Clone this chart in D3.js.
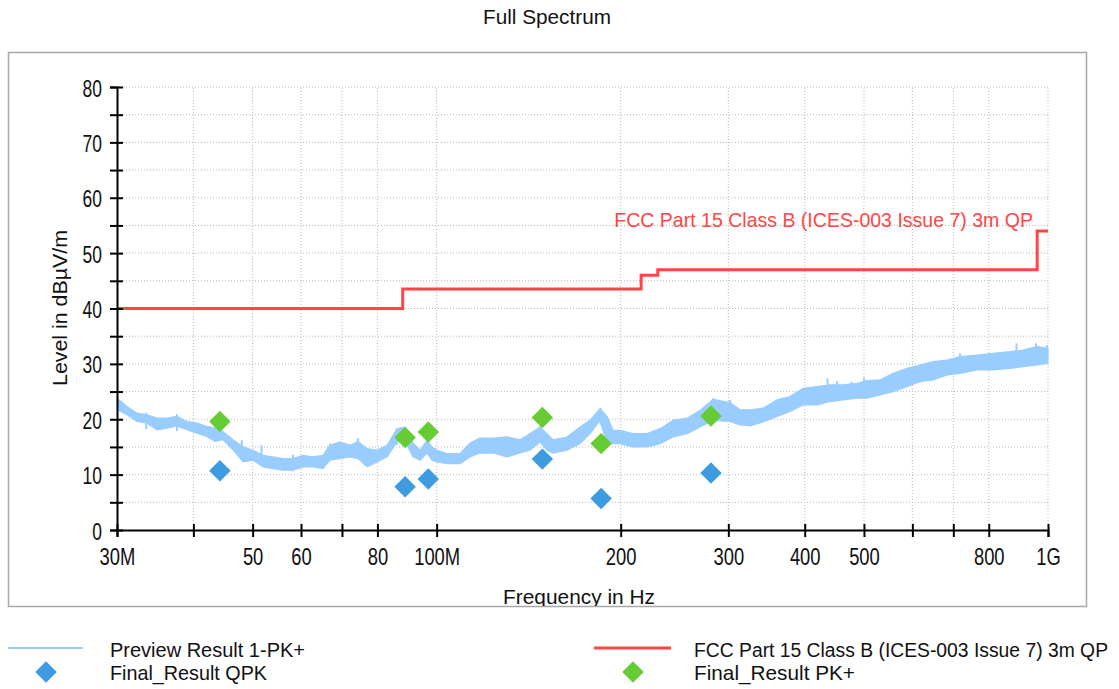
<!DOCTYPE html>
<html>
<head>
<meta charset="utf-8">
<script src="https://cdn.jsdelivr.net/npm/d3@7"></script>
<style>
  html, body { margin: 0; padding: 0; background: #ffffff; }
  svg { display: block; font-family: "Liberation Sans", Arial, sans-serif; }
</style>
</head>
<body>
<svg id="chart" width="1119" height="689"></svg>
<script>
// ---------------- data ----------------
const chartTitle = "Full Spectrum";
const xTitle = "Frequency in Hz";
const yTitle = "Level in dBµV/m";
const limitName = "FCC Part 15 Class B (ICES-003 Issue 7) 3m QP";

const freqTicks = [30, 40, 50, 60, 70, 80, 100, 200, 300, 400, 500, 600, 700, 800, 1000];
const freqTickLabels = { 30: "30M", 50: "50", 60: "60", 80: "80", 100: "100M", 200: "200", 300: "300", 400: "400", 500: "500", 800: "800", 1000: "1G" };
const levelTicks = [0, 5, 10, 15, 20, 25, 30, 35, 40, 45, 50, 55, 60, 65, 70, 75, 80];

// Preview Result 1-PK+ (trace envelope): frequency MHz, upper, lower dBµV/m
const traceFreq = [30.0, 31.15, 32.35, 33.59, 34.88, 36.22, 37.61, 39.05, 40.55, 42.10, 43.39, 44.72, 46.44, 48.22, 50.07, 51.99, 53.99, 56.06, 58.22, 60.46, 62.77, 65.18, 66.92, 69.49, 72.16, 74.38, 76.94, 79.88, 82.95, 86.12, 88.77, 91.49, 93.93, 96.44, 98.28, 100.15, 103.98, 109.2, 113.4, 117.7, 123.7, 130.4, 136.9, 142.1, 147.6, 151.5, 155.0, 163.4, 171.6, 178.2, 185.0, 190.0, 194.3, 199.5, 209.5, 220.9, 232.0, 243.6, 256.8, 269.7, 283.2, 302.0, 313.6, 325.6, 341.9, 360.5, 378.5, 397.5, 419.0, 440.0, 462.2, 487.1, 505.8, 531.2, 557.8, 587.9, 617.5, 648.7, 683.9, 718.0, 765.4, 813.0, 866.7, 910.3, 959.7, 1000];
const traceHigh = [23.8, 22.3, 21.1, 20.8, 20.2, 20.2, 20.5, 19.6, 19.3, 18.7, 18.4, 17.8, 16.3, 15.0, 14.4, 13.5, 13.2, 12.9, 12.9, 13.5, 13.2, 13.5, 15.3, 15.9, 15.3, 16.0, 14.7, 14.4, 15.3, 18.3, 18.6, 15.7, 14.4, 16.2, 15.0, 14.4, 13.8, 13.8, 15.7, 16.6, 16.6, 16.8, 16.3, 17.4, 18.6, 17.4, 16.3, 16.8, 18.6, 19.8, 21.9, 20.5, 18.0, 18.0, 17.4, 17.4, 18.3, 19.8, 20.2, 21.6, 23.6, 23.0, 21.7, 21.7, 22.0, 23.5, 24.1, 25.6, 25.9, 26.2, 26.2, 26.5, 27.0, 27.1, 28.3, 29.2, 29.8, 30.4, 30.7, 31.3, 31.6, 31.9, 32.2, 32.5, 33.1, 32.8];
const traceLow = [21.8, 20.8, 19.6, 19.3, 18.1, 18.4, 18.8, 18.1, 17.5, 16.9, 16.0, 16.3, 14.5, 12.3, 12.6, 11.4, 11.1, 10.8, 10.8, 11.4, 11.4, 11.1, 12.6, 12.9, 13.2, 12.9, 11.4, 12.3, 13.2, 15.9, 16.0, 13.2, 12.6, 13.9, 12.6, 12.3, 12.0, 12.0, 13.2, 13.9, 13.9, 13.2, 13.9, 14.4, 15.9, 14.4, 13.9, 14.4, 15.6, 17.4, 19.8, 15.5, 15.6, 15.6, 15.0, 15.0, 15.6, 16.8, 17.4, 18.6, 19.8, 19.6, 19.0, 18.8, 19.5, 20.5, 21.4, 22.6, 22.6, 23.2, 23.5, 23.8, 23.8, 24.4, 25.0, 25.9, 26.8, 27.1, 28.0, 28.3, 28.9, 28.9, 29.2, 29.5, 29.8, 30.1];

// Visible narrow spikes of the trace: frequency MHz, spike top dBµV/m
const spikeFreq = [33.5, 37.6, 48.0, 51.7, 58.2, 66.9, 74.4, 86.1, 147.6, 185.5, 283.5, 302.0, 436.0, 452.0, 477.0, 500.0, 718.0, 888.0, 956.0, 996.0];
const spikeTop = [21.2, 20.9, 16.2, 15.3, 13.6, 15.6, 16.6, 18.4, 18.8, 22.0, 23.8, 23.5, 27.4, 26.9, 26.8, 27.5, 31.9, 33.7, 33.7, 33.4];

// Limit line (step after each frequency)
const limitFreq = [30, 88, 216, 230, 960, 1000];
const limitLevel = [40, 43.5, 46, 47, 54, 54];

// Final results
const qpkFreq = [44.2, 88.8, 96.9, 148.9, 185.8, 281.0];
const qpkLevel = [10.7, 7.8, 9.2, 12.8, 5.7, 10.3];
const pkFreq = [44.2, 88.8, 96.9, 148.9, 185.8, 281.0];
const pkLevel = [19.6, 16.7, 17.7, 20.3, 15.6, 20.6];

// ---------------- drawing ----------------
const colTrace = "#99ccff", colLimit = "#ff4545", colQpk = "#3f9be0", colPk = "#66cc33";
const svg = d3.select("#chart");

const x = d3.scaleLog().domain([30, 1000]).range([117, 1048]);
const y = d3.scaleLinear().domain([0, 80]).range([530, 87]);

// frame
svg.append("rect").attr("x", 8.5).attr("y", 52.5).attr("width", 1078).attr("height", 554)
  .attr("fill", "#fff").attr("stroke", "#a8a8a8").attr("stroke-width", 1.5);

svg.append("defs").append("clipPath").attr("id", "frameClip")
  .append("rect").attr("x", 9).attr("y", 53).attr("width", 1077).attr("height", 553);

// title
svg.append("text").attr("x", 547).attr("y", 24).attr("text-anchor", "middle")
  .attr("font-size", 21).attr("textLength", 128).attr("lengthAdjust", "spacingAndGlyphs")
  .attr("fill", "#111").text(chartTitle);

const plot = svg.append("g").attr("clip-path", "url(#frameClip)");

// grid
plot.append("g").selectAll("line").data(levelTicks.filter(d => d > 0)).join("line")
  .attr("x1", x(30)).attr("x2", x(1000)).attr("y1", d => y(d)).attr("y2", d => y(d))
  .attr("stroke", "#b8b8b8").attr("stroke-width", 1).attr("stroke-dasharray", "1,2");
plot.append("g").selectAll("line").data(freqTicks.filter(d => d > 30)).join("line")
  .attr("x1", d => x(d)).attr("x2", d => x(d)).attr("y1", y(0)).attr("y2", y(80))
  .attr("stroke", "#b8b8b8").attr("stroke-width", 1).attr("stroke-dasharray", "1,2");

// trace
const traceData = traceFreq.map((f, i) => ({ f, hi: traceHigh[i], lo: traceLow[i] }));
plot.append("path").datum(traceData)
  .attr("d", d3.area().x(d => x(d.f)).y0(d => y(d.lo)).y1(d => y(d.hi)))
  .attr("fill", colTrace).attr("stroke", colTrace).attr("stroke-width", 1.2);
const spikeData = spikeFreq.map((f, i) => ({ f, v: spikeTop[i] }));
plot.append("g").selectAll("line").data(spikeData).join("line")
  .attr("x1", d => x(d.f)).attr("x2", d => x(d.f))
  .attr("y1", d => y(d.v)).attr("y2", d => y(d.v - 3))
  .attr("stroke", colTrace).attr("stroke-width", 2);

// limit
const limitData = limitFreq.map((f, i) => ({ f, v: limitLevel[i] }));
plot.append("path").datum(limitData)
  .attr("d", d3.line().x(d => x(d.f)).y(d => y(d.v)).curve(d3.curveStepAfter))
  .attr("fill", "none").attr("stroke", colLimit).attr("stroke-width", 3);

plot.append("text").attr("transform", "translate(1033,227) scale(0.93,1)").attr("text-anchor", "end")
  .attr("font-size", 21).attr("fill", colLimit).text(limitName);

// axes
const yAxis = d3.axisLeft(y).tickValues(levelTicks).tickFormat(d => d % 10 === 0 ? d : "")
  .tickSizeOuter(0).tickSize(7);
const gy = svg.append("g").attr("transform", `translate(${x(30)},0)`).call(yAxis);
gy.select(".domain").attr("stroke", "#000").attr("stroke-width", 2);
gy.selectAll(".tick line").attr("x1", -7).attr("x2", 6).attr("stroke", "#000").attr("stroke-width", 2);
gy.selectAll(".tick text").attr("x", null).attr("dy", null)
  .attr("transform", "translate(-15,9) scale(0.76,1)")
  .attr("font-size", 23).attr("font-family", "Liberation Sans, Arial, sans-serif").attr("fill", "#111");

const xAxis = d3.axisBottom(x).tickValues(freqTicks).tickFormat(d => freqTickLabels[d] || "")
  .tickSizeOuter(0).tickSize(7);
const gx = svg.append("g").attr("transform", `translate(0,${y(0)})`).call(xAxis);
gx.select(".domain").attr("stroke", "#000").attr("stroke-width", 2);
gx.selectAll(".tick line").attr("y1", -6).attr("y2", 7).attr("stroke", "#000").attr("stroke-width", 2);
gx.selectAll(".tick text").attr("y", null).attr("dy", null)
  .attr("transform", "translate(0,35) scale(0.8,1)")
  .attr("font-size", 23).attr("font-family", "Liberation Sans, Arial, sans-serif").attr("fill", "#111");

// axis titles
plot.append("text").attr("x", 579).attr("y", 604).attr("text-anchor", "middle")
  .attr("font-size", 21).attr("textLength", 152).attr("lengthAdjust", "spacingAndGlyphs")
  .attr("fill", "#111").text(xTitle);
svg.append("text").attr("transform", "translate(67,308) rotate(-90)").attr("text-anchor", "middle")
  .attr("font-size", 21).attr("textLength", 156).attr("lengthAdjust", "spacingAndGlyphs")
  .attr("fill", "#111").text(yTitle);

// markers
const diamond = d3.symbol().type(d3.symbolSquare).size(230);
const qpkData = qpkFreq.map((f, i) => ({ f, v: qpkLevel[i] }));
const pkData = pkFreq.map((f, i) => ({ f, v: pkLevel[i] }));
plot.append("g").selectAll("path").data(qpkData).join("path")
  .attr("d", diamond).attr("transform", d => `translate(${x(d.f)},${y(d.v)}) rotate(45)`)
  .attr("fill", colQpk);
plot.append("g").selectAll("path").data(pkData).join("path")
  .attr("d", diamond).attr("transform", d => `translate(${x(d.f)},${y(d.v)}) rotate(45)`)
  .attr("fill", colPk);

// legend
const legend = svg.append("g");
legend.append("line").attr("x1", 8).attr("x2", 83).attr("y1", 648).attr("y2", 648)
  .attr("stroke", colTrace).attr("stroke-width", 2);
legend.append("text").attr("x", 110).attr("y", 657).attr("font-size", 21)
  .attr("textLength", 195).attr("lengthAdjust", "spacingAndGlyphs").attr("fill", "#111").text("Preview Result 1-PK+");
legend.append("path").attr("d", diamond).attr("transform", "translate(46,672) rotate(45)").attr("fill", colQpk);
legend.append("text").attr("x", 110).attr("y", 680).attr("font-size", 21)
  .attr("textLength", 157).attr("lengthAdjust", "spacingAndGlyphs").attr("fill", "#111").text("Final_Result QPK");

legend.append("line").attr("x1", 594).attr("x2", 671).attr("y1", 648).attr("y2", 648)
  .attr("stroke", colLimit).attr("stroke-width", 3);
legend.append("text").attr("transform", "translate(694,657) scale(0.92,1)").attr("font-size", 21)
  .attr("fill", "#111").text(limitName);
legend.append("path").attr("d", diamond).attr("transform", "translate(633,672) rotate(45)").attr("fill", colPk);
legend.append("text").attr("x", 694).attr("y", 680).attr("font-size", 21)
  .attr("textLength", 161).attr("lengthAdjust", "spacingAndGlyphs").attr("fill", "#111").text("Final_Result PK+");
</script>
</body>
</html>
